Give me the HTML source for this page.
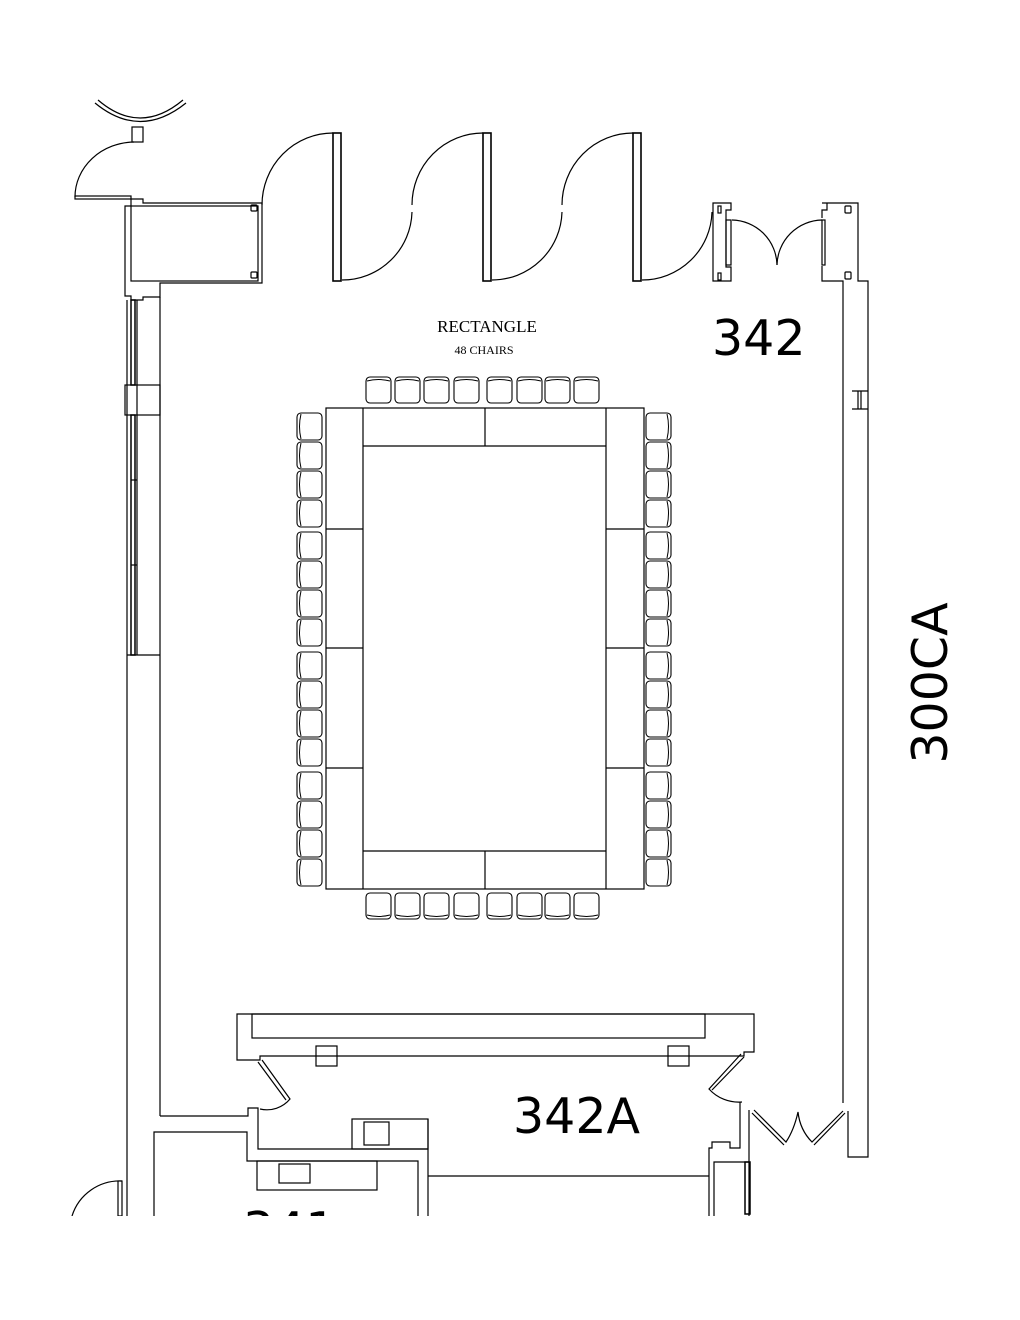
<!DOCTYPE html>
<html><head><meta charset="utf-8"><style>
html,body{margin:0;padding:0;background:#fff;}
svg{display:block;}
</style></head><body>
<svg width="1020" height="1320" viewBox="0 0 1020 1320" xmlns="http://www.w3.org/2000/svg">
<defs>
<clipPath id="c"><rect x="0" y="0" width="1020" height="1216"/></clipPath>
<g id="chT"><rect x="0" y="0" width="25" height="26" rx="4" fill="none" stroke="#000" stroke-width="1.1"/><path d="M1,4 Q12.5,1 24,4" fill="none" stroke="#000" stroke-width="1"/></g>
<g id="chB"><rect x="0" y="0" width="25" height="26" rx="4" fill="none" stroke="#000" stroke-width="1.1"/><path d="M1,22 Q12.5,25 24,22" fill="none" stroke="#000" stroke-width="1"/></g>
<g id="chL"><rect x="0" y="0" width="25" height="27" rx="4" fill="none" stroke="#000" stroke-width="1.1"/><path d="M4,1 Q1,13.5 4,26" fill="none" stroke="#000" stroke-width="1"/></g>
<g id="chR"><rect x="0" y="0" width="25" height="27" rx="4" fill="none" stroke="#000" stroke-width="1.1"/><path d="M21,1 Q24,13.5 21,26" fill="none" stroke="#000" stroke-width="1"/></g>
</defs>
<g clip-path="url(#c)" fill="none" stroke="#000" stroke-width="1.2">
<!-- top-left swing -->
<path d="M95,103 Q140,140 186,103"/><path d="M98,100 Q140,136 183,100"/>
<rect x="132" y="127" width="11" height="15"/>
<path d="M134,142 A60,55 0 0 0 75,197"/>
<rect x="75" y="196" width="56" height="3"/>
<!-- left structure -->
<path d="M131,199 L143,199 L143,203 L262,203 L262,283 L160,283 L160,297 L143,297 L143,300 L131,300 L131,296 L125,296 L125,206 L131,206 Z"/>
<rect x="131" y="206" width="127" height="75"/>
<rect x="251" y="205" width="6" height="6" rx="1"/>
<rect x="251" y="272" width="6" height="6" rx="1"/>
<!-- left window wall -->
<line x1="127" y1="300" x2="127" y2="1216"/>
<line x1="160" y1="297" x2="160" y2="1116"/>
<rect x="131" y="300" width="4" height="85" stroke-width="1.5"/>
<rect x="131" y="415" width="4" height="240" stroke-width="1.5"/>
<line x1="137" y1="300" x2="137" y2="655"/>
<rect x="125" y="385" width="35" height="30"/>
<line x1="127" y1="655" x2="160" y2="655"/>
<line x1="131" y1="480" x2="137" y2="480"/><line x1="131" y1="565" x2="137" y2="565"/>
<!-- top doors -->
<rect x="333" y="133" width="8" height="148" stroke-width="1.6"/>
<rect x="483" y="133" width="8" height="148" stroke-width="1.6"/>
<rect x="633" y="133" width="8" height="148" stroke-width="1.6"/>
<path d="M333,133 A71,72 0 0 0 262,205"/>
<path d="M483,133 A71,72 0 0 0 412,205"/>
<path d="M633,133 A71,72 0 0 0 562,205"/>
<path d="M412,212 A70,70 0 0 1 342,280"/>
<path d="M562,212 A70,70 0 0 1 492,280"/>
<path d="M712,212 A70,70 0 0 1 642,280"/>
<!-- right top structure -->
<path d="M713,203 L731,203 L731,210 L726,210 L726,267 L731,267 L731,281 L713,281 Z"/>
<rect x="718" y="206" width="3" height="7"/><rect x="718" y="273" width="3" height="7"/>
<rect x="726" y="220" width="5" height="45"/>
<rect x="822" y="220" width="3" height="45"/>
<path d="M732,220 A46,46 0 0 1 777,265"/>
<path d="M822,220 A46,46 0 0 0 777,265"/>
<path d="M822,203 L858,203 L858,281 L868,281 L868,1157 L848,1157 L848,1111 M843,1103 L843,281 L822,281 L822,266"/>
<path d="M822,218 L822,210 L827,210 L827,203"/>
<rect x="845" y="206" width="6" height="7" rx="1"/><rect x="845" y="272" width="6" height="7" rx="1"/>
<path d="M852,391 L868,391 M852,409 L868,409 M858,391 L858,409 M861,391 L861,409"/>
<!-- table -->
<rect x="326" y="408" width="318" height="481"/>
<line x1="363" y1="408" x2="363" y2="889"/><line x1="606" y1="408" x2="606" y2="889"/>
<line x1="363" y1="446" x2="606" y2="446"/><line x1="363" y1="851" x2="606" y2="851"/>
<line x1="485" y1="408" x2="485" y2="446"/><line x1="485" y1="851" x2="485" y2="889"/>
<line x1="326" y1="529" x2="363" y2="529"/><line x1="326" y1="648" x2="363" y2="648"/><line x1="326" y1="768" x2="363" y2="768"/>
<line x1="606" y1="529" x2="644" y2="529"/><line x1="606" y1="648" x2="644" y2="648"/><line x1="606" y1="768" x2="644" y2="768"/>
<!-- bottom structures -->
<path d="M237,1014 L754,1014 L754,1052 L744,1052 L744,1056 L260,1056 L260,1060 L237,1060 Z"/>
<rect x="252" y="1014" width="453" height="24"/>
<rect x="316" y="1046" width="21" height="20"/><rect x="668" y="1046" width="21" height="20"/>
<path d="M262,1060 L290,1099 A30,30 0 0 1 260,1109"/><path d="M258,1062 L286,1100"/>
<path d="M741,1054 L709,1089 A40,40 0 0 0 742,1102"/><path d="M744,1057 L712,1090"/>
<path d="M160,1116 L248,1116 L248,1108 L258,1108 L258,1149 L428,1149"/>
<rect x="352" y="1119" width="76" height="30"/><rect x="364" y="1122" width="25" height="23"/>
<line x1="428" y1="1119" x2="428" y2="1216"/>
<line x1="428" y1="1176" x2="709" y2="1176"/>
<path d="M154,1216 L154,1132 L247,1132 L247,1161 L418,1161 L418,1216"/>
<rect x="257" y="1161" width="120" height="29"/><rect x="279" y="1164" width="31" height="19"/>
<path d="M740,1102 L740,1148 L730,1148 L730,1142 L712,1142 L712,1148 L709,1148 L709,1216"/>
<path d="M749,1110 L749,1216 M714,1216 L714,1162 L749,1162"/>
<rect x="745" y="1162" width="5" height="52" stroke-width="1.5"/>
<path d="M754,1110 L786,1142 Q794,1130 798,1112 Q800,1130 812,1142 L843,1111"/>
<path d="M752,1113 L784,1145 M845,1113 L814,1145"/>
<path d="M122,1181 A50,50 0 0 0 72,1216"/>
<rect x="118" y="1181" width="4" height="35"/>
</g>
<!-- chairs -->
<g>
<use href="#chT" x="366" y="377"/><use href="#chT" x="395" y="377"/><use href="#chT" x="424" y="377"/><use href="#chT" x="454" y="377"/>
<use href="#chT" x="487" y="377"/><use href="#chT" x="517" y="377"/><use href="#chT" x="545" y="377"/><use href="#chT" x="574" y="377"/>
<use href="#chB" x="366" y="893"/><use href="#chB" x="395" y="893"/><use href="#chB" x="424" y="893"/><use href="#chB" x="454" y="893"/>
<use href="#chB" x="487" y="893"/><use href="#chB" x="517" y="893"/><use href="#chB" x="545" y="893"/><use href="#chB" x="574" y="893"/>
<use href="#chL" x="297" y="413"/><use href="#chL" x="297" y="442"/><use href="#chL" x="297" y="471"/><use href="#chL" x="297" y="500"/>
<use href="#chL" x="297" y="532"/><use href="#chL" x="297" y="561"/><use href="#chL" x="297" y="590"/><use href="#chL" x="297" y="619"/>
<use href="#chL" x="297" y="652"/><use href="#chL" x="297" y="681"/><use href="#chL" x="297" y="710"/><use href="#chL" x="297" y="739"/>
<use href="#chL" x="297" y="772"/><use href="#chL" x="297" y="801"/><use href="#chL" x="297" y="830"/><use href="#chL" x="297" y="859"/>
<use href="#chR" x="646" y="413"/><use href="#chR" x="646" y="442"/><use href="#chR" x="646" y="471"/><use href="#chR" x="646" y="500"/>
<use href="#chR" x="646" y="532"/><use href="#chR" x="646" y="561"/><use href="#chR" x="646" y="590"/><use href="#chR" x="646" y="619"/>
<use href="#chR" x="646" y="652"/><use href="#chR" x="646" y="681"/><use href="#chR" x="646" y="710"/><use href="#chR" x="646" y="739"/>
<use href="#chR" x="646" y="772"/><use href="#chR" x="646" y="801"/><use href="#chR" x="646" y="830"/><use href="#chR" x="646" y="859"/>
</g>
<!-- text -->
<g font-family="'Liberation Serif',serif" fill="#000" text-anchor="middle">
<text x="487" y="332" font-size="17">RECTANGLE</text>
<text x="484" y="354" font-size="12">48 CHAIRS</text>
</g>
<g font-family="'DejaVu Sans','Liberation Sans',sans-serif" fill="#000">
<text x="712" y="355" font-size="49">342</text>
<text x="513" y="1133" font-size="49">342A</text>
<text x="947" y="683" font-size="49" text-anchor="middle" transform="rotate(-90 947 683)">300CA</text>
<g clip-path="url(#c)"><text x="243" y="1247" font-size="49">341</text></g>
</g>
</svg>
</body></html>
